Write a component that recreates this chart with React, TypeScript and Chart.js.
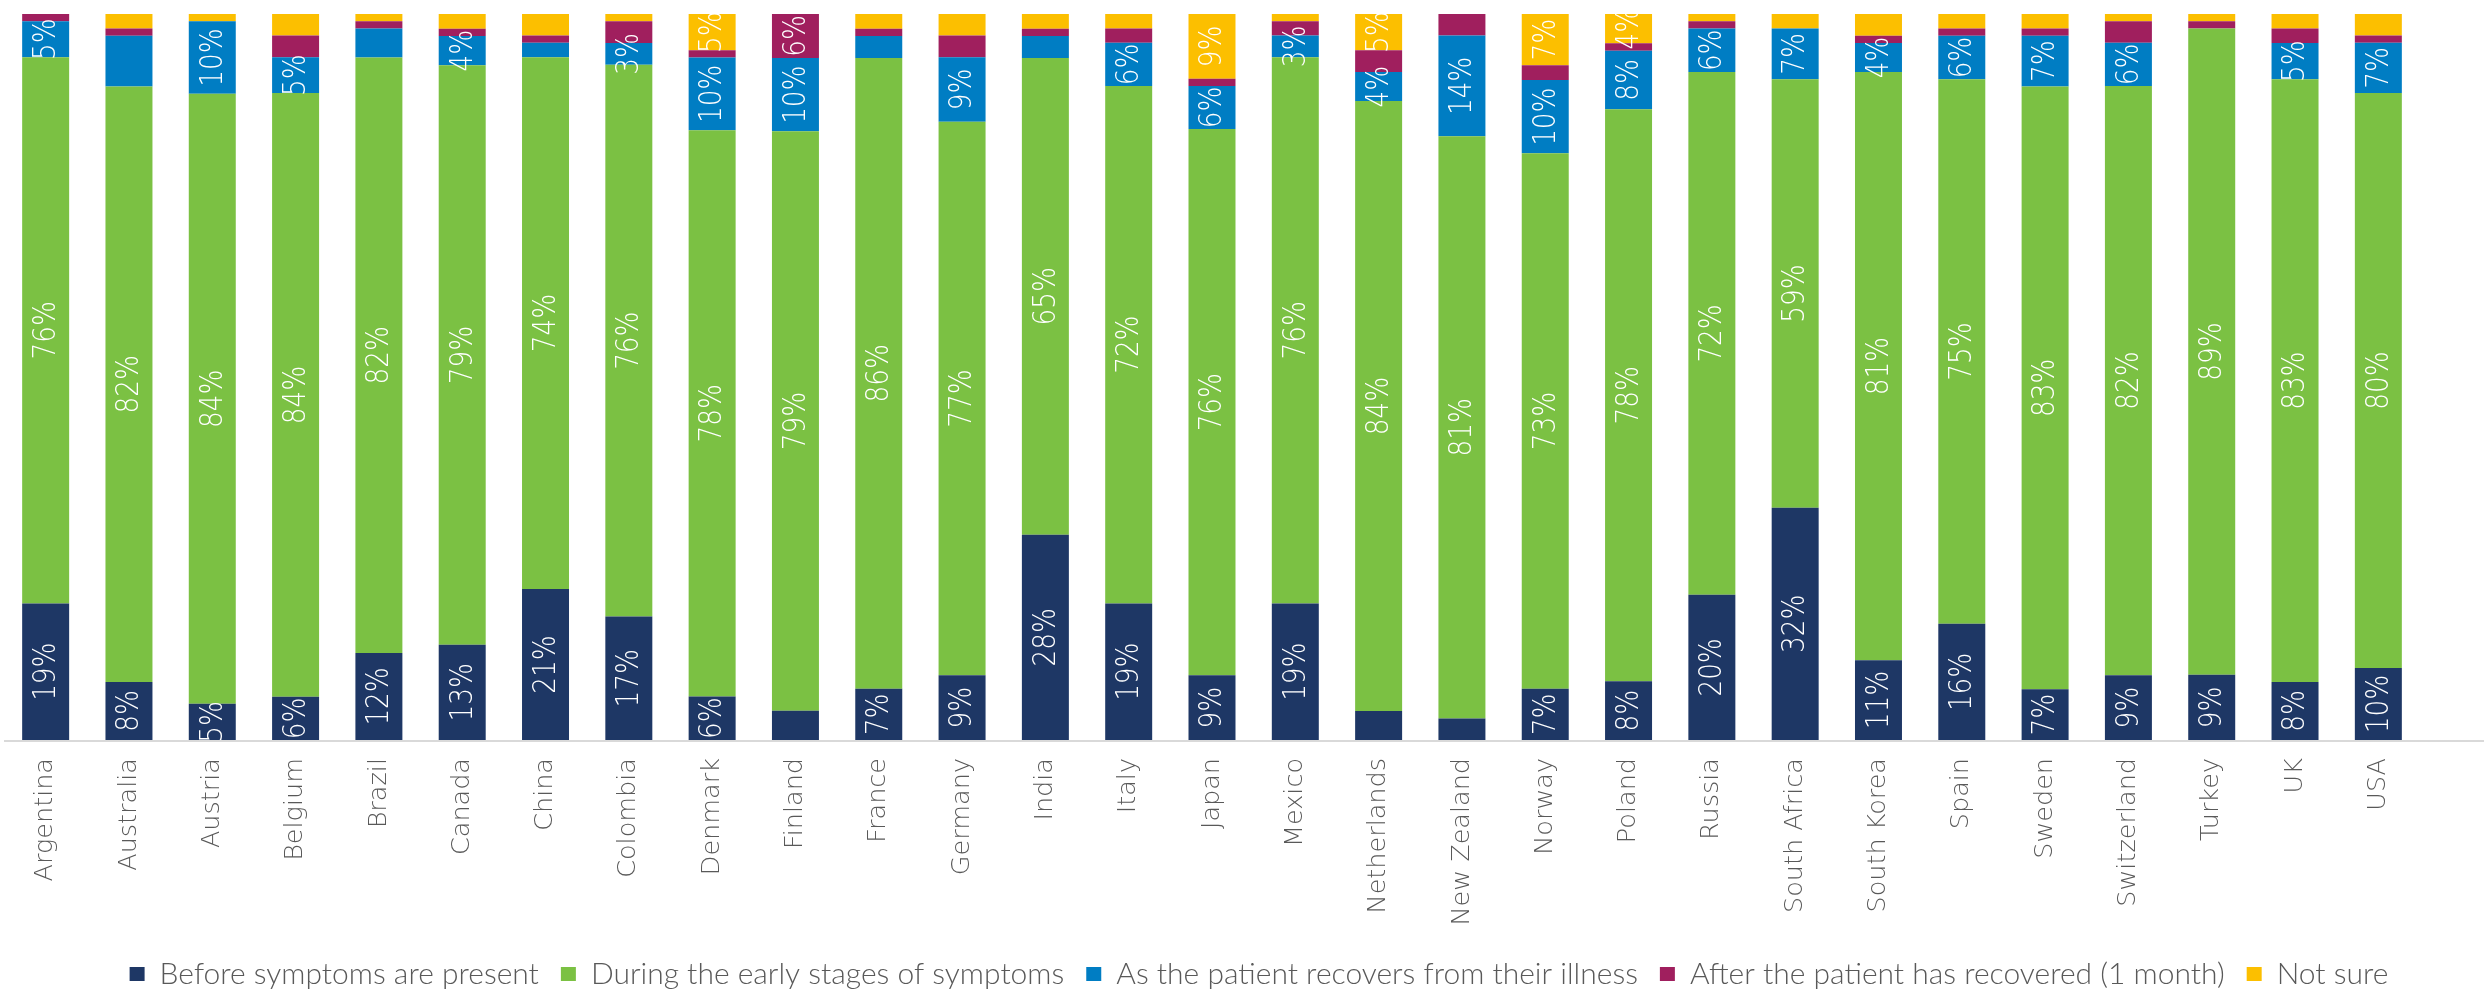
import { useEffect, useRef } from 'react';
import { Chart, registerables } from 'chart.js';

Chart.register(...registerables);

const countries = [
  'Argentina', 'Australia', 'Austria', 'Belgium', 'Brazil', 'Canada', 'China', 'Colombia',
  'Denmark', 'Finland', 'France', 'Germany', 'India', 'Italy', 'Japan', 'Mexico',
  'Netherlands', 'New Zealand', 'Norway', 'Poland', 'Russia', 'South Africa', 'South Korea',
  'Spain', 'Sweden', 'Switzerland', 'Turkey', 'UK', 'USA',
];

const beforeSymptoms = [19, 8, 5, 6, 12, 13, 21, 17, 6, 4, 7, 9, 28, 19, 9, 19, 4, 3, 7, 8, 20, 32, 11, 16, 7, 9, 9, 8, 10];
const earlyStages = [76, 82, 84, 84, 82, 79, 74, 76, 78, 79, 86, 77, 65, 72, 76, 76, 84, 81, 73, 78, 72, 59, 81, 75, 83, 82, 89, 83, 80];
const patientRecovers = [5, 7, 10, 5, 4, 4, 2, 3, 10, 10, 3, 9, 3, 6, 6, 3, 4, 14, 10, 8, 6, 7, 4, 6, 7, 6, 0, 5, 7];
const afterRecovered = [1, 1, 0, 3, 1, 1, 1, 3, 1, 6, 1, 3, 1, 2, 1, 2, 3, 3, 2, 1, 1, 0, 1, 1, 1, 3, 1, 2, 1];
const notSure = [0, 2, 1, 3, 1, 2, 3, 1, 5, 0, 2, 3, 2, 2, 9, 1, 5, 0, 7, 4, 1, 2, 3, 2, 2, 1, 1, 2, 3];

const seriesNames = [
  'Before symptoms are present',
  'During the early stages of symptoms',
  'As the patient recovers from their illness',
  'After the patient has recovered (1 month)',
  'Not sure',
];

// Which segments carry a value label in the original
const beforeHidden = ['Finland', 'Netherlands', 'New Zealand'];
const recoversHidden = ['Australia', 'Brazil', 'China', 'France', 'India', 'Turkey'];
const afterShown = ['Finland'];
const notSureShown = ['Denmark', 'Japan', 'Netherlands', 'Norway', 'Poland'];

const series = [beforeSymptoms, earlyStages, patientRecovers, afterRecovered, notSure];
const colors = ['#1e3765', '#7bc143', '#007dc3', '#a01f5e', '#fcbf00'];

const labelVisible = (si: number, country: string) => {
  if (si === 0) return !beforeHidden.includes(country);
  if (si === 1) return true;
  if (si === 2) return !recoversHidden.includes(country);
  if (si === 3) return afterShown.includes(country);
  return notSureShown.includes(country);
};

const totals = countries.map((_, i) => series.reduce((s, arr) => s + arr[i], 0));

const baselinePlugin = {
  id: 'baseline',
  afterLayout(chart: any) {
    const lg = chart.legend;
    if (lg) {
      lg.left += 47;
      lg.right += 47;
      lg.top += 5;
      lg.bottom += 5;
    }
  },
  beforeDatasetsDraw(chart: any) {
    const { ctx, chartArea } = chart;
    ctx.save();
    ctx.strokeStyle = '#d9d9d9';
    ctx.lineWidth = 2;
    ctx.beginPath();
    ctx.moveTo(4, chartArea.bottom + 1);
    ctx.lineTo(chart.width, chartArea.bottom + 1);
    ctx.stroke();
    ctx.restore();
  },
};

const segmentLabels = {
  id: 'segmentLabels',
  afterDatasetsDraw(chart: any) {
    const { ctx, chartArea } = chart;
    ctx.save();
    ctx.beginPath();
    ctx.rect(chartArea.left, chartArea.top, chartArea.right - chartArea.left, chartArea.bottom - chartArea.top);
    ctx.clip();
    series.forEach((vals, si) => {
      const meta = chart.getDatasetMeta(si);
      meta.data.forEach((bar: any, i: number) => {
        if (!vals[i] || !labelVisible(si, countries[i])) return;
        const { x, y, base } = bar.getProps(['x', 'y', 'base'], true);
        ctx.save();
        ctx.translate(x, (y + base) / 2);
        ctx.rotate(-Math.PI / 2);
        ctx.scale(0.82, 1);
        ctx.fillStyle = '#ffffff';
        ctx.font = "200 32px 'DejaVu Sans', sans-serif";
        ctx.textAlign = 'center';
        ctx.textBaseline = 'middle';
        ctx.fillText(vals[i] + '%', 0, 1);
        ctx.restore();
      });
    });
    ctx.restore();
  },
};

export default function App() {
  const ref = useRef<HTMLCanvasElement | null>(null);

  useEffect(() => {
    if (!ref.current) return;
    const chart = new Chart(ref.current, {
      type: 'bar',
      data: {
        labels: countries,
        datasets: series.map((vals, si) => ({
          label: seriesNames[si],
          data: vals.map((v, i) => (v / totals[i]) * 100),
          backgroundColor: colors[si],
          borderWidth: 0,
          barPercentage: 0.564,
          categoryPercentage: 1,
        })),
      },
      options: {
        responsive: false,
        maintainAspectRatio: false,
        animation: false,
        layout: { padding: { left: 4, right: 64, top: 14, bottom: 0 } },
        plugins: {
          legend: {
            position: 'bottom',
            labels: {
              boxWidth: 15,
              boxHeight: 14,
              padding: 22,
              color: '#595959',
              font: { family: 'Lato', size: 30, weight: '300' },
            },
          },
          tooltip: { enabled: false },
        },
        scales: {
          x: {
            stacked: true,
            grid: { display: false, drawTicks: false },
            border: { display: false },
            ticks: {
              autoSkip: false,
              minRotation: 90,
              maxRotation: 90,
              padding: 18,
              color: '#595959',
              font: { family: 'DejaVu Sans', size: 25.5, weight: '200' },
            },
            afterFit: (s: any) => {
              s.height = 192;
            },
          },
          y: { stacked: true, display: false, min: 0, max: 100 },
        },
      },
      plugins: [baselinePlugin, segmentLabels],
    } as any);
    return () => chart.destroy();
  }, []);

  return (
    <div style={{ position: 'absolute', left: 0, top: 0, width: 2484, height: 994, background: '#fff' }}>
      <canvas ref={ref} width={2484} height={994} />
    </div>
  );
}
